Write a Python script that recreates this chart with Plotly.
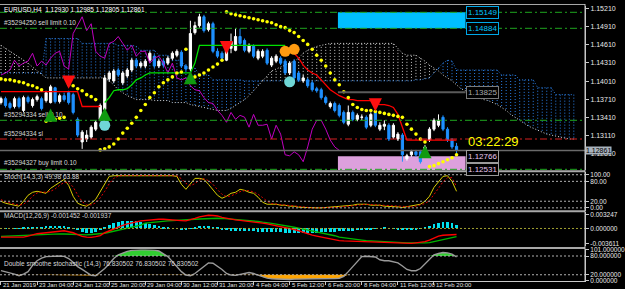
import plotly.graph_objects as go

# ---------------------------------------------------------------- data
bars = list(range(102))

opens = [
1.13654,1.13719,1.13638,1.13589,1.13719,1.13523,1.13736,1.13605,1.13703,1.13719,
1.13687,1.13654,1.13899,1.13670,1.13768,1.13817,1.13785,1.13376,1.13001,1.13050,
1.13082,1.13213,1.13376,1.13540,1.14046,1.14013,1.14193,1.13981,1.14095,1.14193,
1.14356,1.14259,1.14259,1.14356,1.14422,1.14259,1.14340,1.14307,1.14389,1.14438,
1.14487,1.14259,1.14209,1.14813,1.14928,1.15075,1.14862,1.14960,1.14503,1.14471,
1.14356,1.14552,1.14520,1.14748,1.14683,1.14503,1.14585,1.14389,1.14422,1.14520,
1.14275,1.14340,1.14389,1.14340,1.14144,1.14340,1.14144,1.14013,1.14030,1.13981,
1.13883,1.13866,1.13736,1.13589,1.13638,1.13605,1.13491,1.13295,1.13491,1.13376,
1.13409,1.13409,1.13278,1.13491,1.13213,1.13262,1.13278,1.13082,1.13050,1.13115,
1.12723,1.12789,1.12838,1.12838,1.12805,1.13033,1.13213,1.13278,1.13409,1.13213,
1.13033,1.12930]
highs = [
1.13752,1.13752,1.13670,1.13752,1.13752,1.13768,1.13768,1.13736,1.13785,1.13752,
1.13850,1.13948,1.13915,1.13801,1.13817,1.13850,1.13817,1.13409,1.13197,1.13197,
1.13278,1.13360,1.13638,1.14111,1.14177,1.14209,1.14226,1.14177,1.14226,1.14389,
1.14389,1.14340,1.14373,1.14503,1.14454,1.14373,1.14373,1.14422,1.14503,1.14536,
1.14520,1.14291,1.15009,1.14993,1.15124,1.15107,1.14993,1.14993,1.14552,1.14503,
1.14666,1.14797,1.14879,1.14879,1.14715,1.14634,1.14617,1.14536,1.14536,1.14552,
1.14422,1.14454,1.14422,1.14373,1.14340,1.14373,1.14177,1.14111,1.14062,1.14013,
1.13915,1.13899,1.13768,1.13670,1.13670,1.13638,1.13523,1.13605,1.13523,1.13474,
1.13458,1.13442,1.13491,1.13491,1.13327,1.13360,1.13311,1.13311,1.13164,1.13148,
1.12805,1.12870,1.12870,1.12870,1.12952,1.13246,1.13393,1.13458,1.13442,1.13246,
1.13066,1.12985]
lows = [
1.13621,1.13572,1.13540,1.13556,1.13556,1.13491,1.13638,1.13572,1.13670,1.13523,
1.13654,1.13638,1.13638,1.13638,1.13670,1.13621,1.13458,1.13082,1.12887,1.13001,
1.13050,1.13181,1.13344,1.13491,1.13997,1.13981,1.14079,1.13948,1.14062,1.14160,
1.14226,1.14226,1.14226,1.14324,1.14226,1.14226,1.14242,1.14275,1.14356,1.14405,
1.14226,1.14177,1.14177,1.14781,1.14895,1.14813,1.14830,1.14471,1.14389,1.14356,
1.14340,1.14471,1.14503,1.14601,1.14487,1.14471,1.14389,1.14356,1.14389,1.14275,
1.14242,1.14307,1.14275,1.14111,1.14111,1.14030,1.13997,1.13981,1.13899,1.13834,
1.13817,1.13703,1.13621,1.13556,1.13491,1.13409,1.13295,1.13262,1.13344,1.13344,
1.13360,1.13213,1.13246,1.13246,1.13181,1.13197,1.13017,1.13050,1.13017,1.12674,
1.12691,1.12756,1.12756,1.12642,1.12772,1.13001,1.13181,1.13246,1.13181,1.13001,
1.12887,1.12805]
closes = [
1.13719,1.13605,1.13572,1.13719,1.13589,1.13736,1.13670,1.13703,1.13752,1.13556,
1.13817,1.13915,1.13670,1.13768,1.13703,1.13654,1.13491,1.13115,1.13164,1.13115,
1.13246,1.13327,1.13605,1.14062,1.14144,1.14177,1.14111,1.14144,1.14193,1.14356,
1.14259,1.14307,1.14340,1.14471,1.14259,1.14340,1.14275,1.14389,1.14471,1.14503,
1.14259,1.14209,1.14797,1.14928,1.15075,1.14846,1.14960,1.14503,1.14422,1.14389,
1.14634,1.14666,1.14748,1.14634,1.14520,1.14601,1.14422,1.14503,1.14503,1.14307,
1.14389,1.14422,1.14307,1.14144,1.14307,1.14062,1.14030,1.14062,1.13932,1.13866,
1.13850,1.13736,1.13654,1.13638,1.13523,1.13442,1.13327,1.13491,1.13376,1.13442,
1.13412,1.13246,1.13458,1.13278,1.13278,1.13295,1.13050,1.13278,1.13131,1.12789,
1.12772,1.12838,1.12789,1.12674,1.12919,1.13213,1.13360,1.13360,1.13213,1.13033,
1.12919,1.12861]

sar = [
1.14046,1.14030,1.14030,1.14013,1.13997,1.13981,1.13948,1.13932,1.13899,1.13866,
1.13344,1.13360,1.13376,1.13393,1.13409,1.13948,1.13932,1.13883,1.13850,1.13785,
1.13752,1.13703,1.12870,1.12887,1.12919,1.12968,1.13050,1.13148,1.13229,1.13311,
1.13409,1.13523,1.13621,1.13736,1.13817,1.13915,1.13981,1.14030,1.14079,1.14144,
1.14160,1.14536,1.14062,1.14079,1.14111,1.14144,1.14193,1.14242,1.14291,1.14356,
1.15156,1.15124,1.15107,1.15091,1.15075,1.15058,1.15042,1.15026,1.15009,1.14993,
1.14977,1.14944,1.14911,1.14895,1.14846,1.14813,1.14748,1.14683,1.14617,1.14536,
1.14438,1.14356,1.14259,1.14144,1.14030,1.13948,1.13834,1.13736,1.13621,1.13572,
1.13540,1.13523,1.13523,1.13507,1.13491,1.13474,1.13458,1.13442,1.13425,1.13409,
1.13295,1.13213,1.13131,1.13050,1.13001,1.12593,1.12609,1.12642,1.12674,1.12707,
1.12740,1.12789]

# Ichimoku senkou spans (drawn 26 bars ahead, so 128 bars)
span_a = [
1.14144,1.14144,1.14144,1.14144,1.14144,1.14144,1.14144,1.14144,1.14144,1.14144,
1.14715,1.14715,1.14715,1.14715,1.14715,1.14715,1.14715,1.14715,1.14634,1.14634,
1.14634,1.14634,1.14634,1.14634,1.14634,1.14634,1.14601,1.14601,1.14601,1.14601,
1.14585,1.14520,1.14520,1.14520,1.14520,1.14438,1.14438,1.14438,1.14356,1.14356,
1.14356,1.14226,1.14226,1.14226,1.14111,1.14111,1.14111,1.14030,1.14030,1.14030,
1.14030,1.14030,1.14030,1.14030,1.14013,1.14013,1.14013,1.14013,1.14013,1.14013,
1.14013,1.14013,1.14013,1.14013,1.14013,1.14013,1.14013,1.14013,1.14013,1.14013,
1.14013,1.14013,1.14013,1.14013,1.14013,1.14013,1.14013,1.14013,1.14013,1.14013,
1.14013,1.14013,1.14013,1.14013,1.14013,1.14013,1.14013,1.14013,1.14013,1.14013,
1.14013,1.14013,1.14030,1.14030,1.14046,1.14062,1.14144,1.14226,1.14307,1.14356,
1.14340,1.14193,1.14193,1.14193,1.14193,1.14193,1.14193,1.14193,1.14193,1.14193,
1.14193,1.14111,1.14111,1.14111,1.14111,1.14030,1.14030,1.14030,1.14030,1.13899,
1.13899,1.13899,1.13899,1.13785,1.13785,1.13785,1.13785,1.13785]
span_b = [
1.14601,1.14552,1.14503,1.14454,1.14405,1.14356,1.14307,1.14242,1.14177,1.14111,
1.14062,1.14062,1.14062,1.14062,1.14062,1.14062,1.14062,1.14062,1.14062,1.14062,
1.14062,1.14062,1.14062,1.14062,1.14013,1.13948,1.13866,1.13817,1.13768,1.13736,
1.13703,1.13703,1.13703,1.13703,1.13687,1.13687,1.13687,1.13687,1.13654,1.13654,
1.13654,1.13654,1.13621,1.13605,1.13589,1.13572,1.13556,1.13540,1.13523,1.13523,
1.13523,1.13556,1.13605,1.13654,1.13703,1.13768,1.13850,1.13948,1.14030,1.14111,
1.14177,1.14209,1.14242,1.14275,1.14307,1.14340,1.14389,1.14471,1.14520,1.14552,
1.14585,1.14601,1.14617,1.14634,1.14634,1.14634,1.14634,1.14634,1.14634,1.14634,
1.14634,1.14634,1.14634,1.14634,1.14634,1.14634,1.14634,1.14634,1.14552,1.14471,
1.14438,1.14438,1.14438,1.14389,1.14340,1.14275,1.14226,1.14177,1.14111,1.14062,
1.14013,1.13948,1.13883,1.13850,1.13817,1.13768,1.13736,1.13703,1.13687,1.13654,
1.13621,1.13572,1.13523,1.13458,1.13409,1.13360,1.13311,1.13262,1.13229,1.13197,
1.13164,1.13131,1.13115,1.13099,1.13082,1.13066,1.13050,1.13050]

# trailing stop line: (first bar, values)
trend_red_segments = [
    (0, [1.13834,1.13834,1.13834,1.13834,1.13834,1.13834,1.13834,1.13834,1.13834,1.13834,
         1.13834,1.13834,1.13834,1.13834,1.13834,1.13834,1.13834,1.13834,
         1.13589,1.13589,1.13589,1.13589,1.13589]),
    (65, [1.14471,1.14389,1.14275,1.14193,1.14144,1.14111,1.14030,1.13948,1.13866,1.13817,
          1.13768,1.13736,1.13703,1.13703,1.13687,1.13687,1.13687,1.13687,1.13654,1.13621,
          1.13621,1.13605,1.13572,1.13458,1.13246,1.13033,1.13033,1.13033,1.13033,1.13033,
          1.13033,1.13033,1.13033,1.13033,1.13033,1.13033,1.13033]),
]
trend_green_segments = [
    (23, [1.13654,1.13736,1.13850,1.13866,1.13866,1.13883,1.13948,1.14030,1.14062,1.14111,
          1.14144,1.14144,1.14144,1.14144,1.14144,1.14144,1.14144,1.14144,1.14144,1.14144,
          1.14307,1.14601,1.14601,1.14601,1.14601,1.14601,1.14601,1.14601,1.14601,1.14601,
          1.14601,1.14601,1.14601,1.14601,1.14601,1.14601,1.14601,1.14601,1.14601,1.14601,
          1.14601]),
]

arrow_up_bars = [11, 23, 42, 94]
arrow_up_prices = [1.13556, 1.13572, 1.14177, 1.12952]
arrow_dn_bars = [15, 50, 83]
arrow_dn_prices = [1.13883, 1.14454, 1.13507]
cyan_bars = [23, 64]
cyan_prices = [1.13278, 1.13997]
orange_bars = [63, 65]
orange_prices = [1.14503, 1.14536]

zone_high = [1.15149, 1.14884]      # sell zone (cyan)
zone_low = [1.12766, 1.12531]       # buy zone (plum)
level_gray = 1.13825
level_sell_stop = 1.13360
level_sl = 1.13050
level_buy_limit = 1.12548
bid = 1.12861

stoch_main = [
20,14,11,8,5,20,38,47,50,47, 44,59,68,77,86,68,35,14,8,5,
14,26,50,74,95,97,97,99,98,99, 97,98,99,99,98,97,98,99,97,95,
71,56,74,89,89,86,71,56,38,29, 35,44,47,56,53,47,44,32,17,11,
11,11,8,8,5,5,2,1,0,0, 0,0,1,1,3,3,5,5,8,11,
11,11,8,8,8,5,5,5,3,1, 3,5,8,11,20,35,62,80,95,97,
80,49.98]
stoch_signal = [
25,18,15,11,8,11,21,35,45,48, 47,50,57,68,77,77,63,39,19,9,
9,15,30,50,73,89,96,98,98,98, 98,98,98,99,98,98,98,98,98,97,
88,74,67,73,84,88,82,71,55,41, 34,36,42,49,52,52,48,41,31,20,
13,11,10,9,7,6,4,3,1,0, 0,0,0,1,2,2,4,4,6,8,
10,11,10,9,8,7,6,5,4,3, 2,3,5,8,13,22,39,59,79,91,
91,63.88]

macd_main = [
-0.00208,-0.00208,-0.00208,-0.00208,-0.00208,-0.00208,-0.00184,-0.00149,-0.00125,-0.00114,
-0.00102,-0.00090,-0.00078,-0.00054,-0.00054,-0.00078,-0.00102,-0.00149,-0.00189,-0.00208,
-0.00213,-0.00196,-0.00173,-0.00102,-0.00054,-0.00007,0.00040,0.00076,0.00111,0.00142,
0.00158,0.00182,0.00194,0.00206,0.00218,0.00222,0.00222,0.00218,0.00206,0.00199,
0.00189,0.00182,0.00206,0.00241,0.00277,0.00300,0.00317,0.00312,0.00300,0.00265,
0.00241,0.00218,0.00206,0.00194,0.00182,0.00175,0.00166,0.00147,0.00128,0.00111,
0.00088,0.00071,0.00057,0.00028,0.00005,-0.00024,-0.00054,-0.00090,-0.00137,-0.00161,
-0.00184,-0.00208,-0.00232,-0.00255,-0.00279,-0.00291,-0.00298,-0.00303,-0.00307,-0.00310,
-0.00315,-0.00315,-0.00315,-0.00322,-0.00326,-0.00331,-0.00338,-0.00338,-0.00343,-0.00355,
-0.003611,-0.00358,-0.00345,-0.00338,-0.00315,-0.00279,-0.00232,-0.00184,-0.00161,-0.00150,
-0.00148,-0.001452]
macd_signal = [
-0.00189,-0.00184,-0.00180,-0.00173,-0.00166,-0.00161,-0.00156,-0.00149,-0.00144,-0.00137,
-0.00132,-0.00130,-0.00130,-0.00130,-0.00132,-0.00137,-0.00144,-0.00151,-0.00156,-0.00154,
-0.00144,-0.00137,-0.00132,-0.00114,-0.00090,-0.00066,-0.00043,-0.00019,0.00005,0.00024,
0.00052,0.00080,0.00128,0.00142,0.00158,0.00170,0.00177,0.00182,0.00189,0.00199,
0.00206,0.00213,0.00218,0.00222,0.00229,0.00237,0.00246,0.00246,0.00246,0.00241,
0.00234,0.00222,0.00218,0.00210,0.00201,0.00192,0.00182,0.00168,0.00151,0.00142,
0.00123,0.00104,0.00088,0.00076,0.00057,0.00028,0.00009,-0.00014,-0.00043,-0.00061,
-0.00078,-0.00097,-0.00118,-0.00144,-0.00173,-0.00208,-0.00225,-0.00239,-0.00255,-0.00267,
-0.00279,-0.00291,-0.00298,-0.00307,-0.00315,-0.00319,-0.00326,-0.00333,-0.00338,-0.00343,
-0.00345,-0.00345,-0.00350,-0.00350,-0.00345,-0.00338,-0.00320,-0.00295,-0.00268,-0.00243,
-0.00218,-0.001937]
macd_hist = [
-0.0001,-0.0001,0.0000,0.0001,0.0001,0.0002,0.0003,0.0003,0.0004,0.0004,
0.0005,0.0006,0.0006,0.0006,0.0005,0.0003,0.0001,-0.0004,-0.0008,-0.0010,
-0.0010,-0.0008,-0.0004,0.0003,0.0008,0.0012,0.0015,0.0017,0.0018,0.0018,
0.0017,0.0015,0.0013,0.0011,0.0009,0.0006,0.0004,0.0002,0.0000,-0.0001,
-0.0002,-0.0002,0.0001,0.0004,0.0006,0.0007,0.0006,0.0004,0.0002,-0.0002,
-0.0004,-0.0005,-0.0006,-0.0006,-0.0006,-0.0006,-0.0007,-0.0008,-0.0008,-0.0009,
-0.0009,-0.0009,-0.0009,-0.0010,-0.0010,-0.0010,-0.0010,-0.0010,-0.0011,-0.0010,
-0.0010,-0.0009,-0.0009,-0.0008,-0.0008,-0.0007,-0.0006,-0.0006,-0.0005,-0.0004,
-0.0004,-0.0003,-0.0002,-0.0001,0.0000,0.0002,0.0001,-0.0001,-0.0002,-0.0003,
-0.0004,-0.0004,-0.0003,-0.0001,0.0003,0.0007,0.0011,0.0014,0.0016,0.0015,
0.0012,0.0008]

dss = [
33,30,27,22,17,22,30,50,65,73, 78,79,80,80,79,72,60,46,37,26,
18,17,28,40,55,72,84,90,95,98, 100,100,100,100,99,96,88,78,62,46,
30,19,17,24,35,48,58,57,48,37, 24,19,18,21,26,27,24,19,13,9,
7,6,5,5,5,6,6,7,7,8, 8,8,8,8,8,9,15,30,45,60,
78,79,79,77,68,65,65,62,58,48, 37,33,33,40,55,70,84,88,91,90,
86,76.830502]

tick_bars = [0, 8, 16, 24, 32, 40, 48, 56, 64, 72, 80, 88, 96]
tick_labels = ["21 Jan 2019", "23 Jan 04:00", "24 Jan 12:00", "25 Jan 20:00",
               "29 Jan 04:00", "30 Jan 12:00", "31 Jan 20:00", "4 Feb 04:00",
               "5 Feb 12:00", "6 Feb 20:00", "8 Feb 04:00", "11 Feb 12:00",
               "12 Feb 20:00"]
price_ticks = [1.15210, 1.14910, 1.14610, 1.14310, 1.14010, 1.13710, 1.13410, 1.13110, 1.12810]

# ---------------------------------------------------------------- layout helpers
FONT = "Liberation Sans, Arial, sans-serif"
W, H = 625, 289
ML, MR, MT, MB = 0, 31, 0, 8
PH = H - MT - MB


def pdom(top_px, bot_px):
    return [max(0.0, 1 - bot_px / PH), 1 - top_px / PH]


def py(px):
    return 1 - px / PH


MAIN_RANGE = [1.12535, 1.15254]
BLUE = "#1E90FF"
HATCH_BLUE = "#2a7fe6"
HATCH_WHITE = "#c8c8c8"
DOT = "1px,2px"
DASHDOT = "7px,3px,2px,3px"

fig = go.Figure()

# ---- Ichimoku cloud (base subplot, below candles)
cloud_bars = list(range(len(span_a)))
hb_x, hb_y, hw_x, hw_y = [], [], [], []
for i, (a, b) in enumerate(zip(span_a, span_b)):
    if a >= b:
        hb_x += [i, i, None]
        hb_y += [a, b, None]
    else:
        hw_x += [i, i, None]
        hw_y += [a, b, None]
fig.add_trace(go.Scatter(x=hb_x, y=hb_y, mode="lines", xaxis="x", yaxis="y",
                         line=dict(color=HATCH_BLUE, width=1, dash=DOT), hoverinfo="skip"))
fig.add_trace(go.Scatter(x=hw_x, y=hw_y, mode="lines", xaxis="x", yaxis="y",
                         line=dict(color=HATCH_WHITE, width=1, dash=DOT), hoverinfo="skip"))
fig.add_trace(go.Scatter(x=cloud_bars, y=span_a, mode="lines", xaxis="x", yaxis="y",
                         line=dict(color=HATCH_BLUE, width=1, dash=DOT), hoverinfo="skip"))
fig.add_trace(go.Scatter(x=cloud_bars, y=span_b, mode="lines", xaxis="x", yaxis="y",
                         line=dict(color="#d8d8d8", width=1, dash=DOT), hoverinfo="skip"))

# ---- overlay subplot for price marks
chikou_x = bars[:len(closes) - 26]
chikou_y = closes[26:]
fig.add_trace(go.Scatter(x=chikou_x, y=chikou_y, mode="lines", xaxis="x", yaxis="y5",
                         line=dict(color="#c000c0", width=1), hoverinfo="skip"))
for start, vals in trend_red_segments:
    fig.add_trace(go.Scatter(x=list(range(start, start + len(vals))), y=vals, mode="lines",
                             xaxis="x", yaxis="y5", line=dict(color="#ff0000", width=1.3),
                             hoverinfo="skip"))
for start, vals in trend_green_segments:
    fig.add_trace(go.Scatter(x=list(range(start, start + len(vals))), y=vals, mode="lines",
                             xaxis="x", yaxis="y5", line=dict(color="#00e000", width=1.3),
                             hoverinfo="skip"))
fig.add_trace(go.Candlestick(
    x=bars, open=opens, high=highs, low=lows, close=closes, xaxis="x", yaxis="y5",
    increasing=dict(line=dict(color="#ffffff", width=1), fillcolor="#ffffff"),
    decreasing=dict(line=dict(color=BLUE, width=1), fillcolor=BLUE),
    whiskerwidth=0, hoverinfo="skip"))
fig.add_trace(go.Scatter(x=bars, y=sar, mode="markers", xaxis="x", yaxis="y5",
                         marker=dict(color="#ffff00", size=3.6, symbol="circle"), hoverinfo="skip"))
fig.add_trace(go.Scatter(x=cyan_bars, y=cyan_prices, mode="markers", xaxis="x", yaxis="y5",
                         marker=dict(color="#6fd6d6", size=11), hoverinfo="skip"))
fig.add_trace(go.Scatter(x=orange_bars, y=orange_prices, mode="markers", xaxis="x", yaxis="y5",
                         marker=dict(color="#ff9a10", size=11), hoverinfo="skip"))

# ---- Stochastic
fig.add_trace(go.Scatter(x=bars, y=stoch_main, mode="lines", xaxis="x", yaxis="y2",
                         line=dict(color="#d8cc00", width=1), hoverinfo="skip"))
fig.add_trace(go.Scatter(x=bars, y=stoch_signal, mode="lines", xaxis="x", yaxis="y2",
                         line=dict(color="#e00000", width=1, dash="2px,2px"), hoverinfo="skip"))

# ---- MACD
fig.add_trace(go.Bar(x=bars, y=macd_hist, xaxis="x", yaxis="y3", width=0.6,
                     marker=dict(color="#00e1ee", line=dict(width=0)), hoverinfo="skip"))
fig.add_trace(go.Scatter(x=bars, y=macd_signal, mode="lines", xaxis="x", yaxis="y3",
                         line=dict(color="#00b400", width=1.4), hoverinfo="skip"))
fig.add_trace(go.Scatter(x=bars, y=macd_main, mode="lines", xaxis="x", yaxis="y3",
                         line=dict(color="#ff0000", width=1.4), hoverinfo="skip"))

# ---- Double smoothed stochastic with zone fills
lvl20 = [20 for _ in bars]
lvl80 = [80 for _ in bars]
dss_lo = [min(v, 20) for v in dss]
dss_hi = [max(v, 80) for v in dss]
fig.add_trace(go.Scatter(x=bars, y=lvl20, mode="lines", xaxis="x", yaxis="y4",
                         line=dict(width=0), hoverinfo="skip"))
fig.add_trace(go.Scatter(x=bars, y=dss_lo, mode="lines", xaxis="x", yaxis="y4", fill="tonexty",
                         fillcolor="#ffa500", line=dict(width=0), hoverinfo="skip"))
fig.add_trace(go.Scatter(x=bars, y=lvl80, mode="lines", xaxis="x", yaxis="y4",
                         line=dict(width=0), hoverinfo="skip"))
fig.add_trace(go.Scatter(x=bars, y=dss_hi, mode="lines", xaxis="x", yaxis="y4", fill="tonexty",
                         fillcolor="#32cd32", line=dict(width=0), hoverinfo="skip"))
fig.add_trace(go.Scatter(x=bars, y=dss, mode="lines", xaxis="x", yaxis="y4",
                         line=dict(color="#9a9a9a", width=1.4), hoverinfo="skip"))

# ---------------------------------------------------------------- shapes
shapes = []
ZONE_X0, ZONE_X1 = 74.7, 103.0
shapes.append(dict(type="rect", xref="x", yref="y", x0=ZONE_X0, x1=ZONE_X1,
                   y0=zone_high[1], y1=zone_high[0], fillcolor="#00bfff",
                   line=dict(width=0), layer="below"))
shapes.append(dict(type="rect", xref="x", yref="y", x0=ZONE_X0, x1=ZONE_X1,
                   y0=zone_low[1], y1=zone_low[0], fillcolor="#dda0dd",
                   line=dict(width=0), layer="below"))
shapes.append(dict(type="line", xref="x", yref="y", x0=ZONE_X0, x1=ZONE_X1,
                   y0=level_gray, y1=level_gray, line=dict(color="#5a5a5a", width=2)))
for lv in (zone_high[0], zone_high[1], level_sell_stop, level_buy_limit):
    shapes.append(dict(type="line", xref="paper", yref="y", x0=0, x1=1, y0=lv, y1=lv,
                       line=dict(color="#1fa51f", width=1, dash=DASHDOT)))
shapes.append(dict(type="line", xref="paper", yref="y", x0=0, x1=1, y0=level_sl, y1=level_sl,
                   line=dict(color="#d42020", width=1, dash=DASHDOT)))
shapes.append(dict(type="line", xref="paper", yref="y", x0=0, x1=1, y0=bid, y1=bid,
                   line=dict(color="#6a6a6a", width=1.5)))
for lv in (100, 80, 20, 0):
    shapes.append(dict(type="line", xref="paper", yref="y2", x0=0, x1=1, y0=lv, y1=lv,
                       line=dict(color="#b0b0b0", width=1, dash="2px,2px")))
shapes.append(dict(type="line", xref="paper", yref="y3", x0=0, x1=1, y0=0, y1=0,
                   line=dict(color="#a0a030", width=1, dash="2px,2px")))
for lv in (80, 20):
    shapes.append(dict(type="line", xref="paper", yref="y4", x0=0, x1=1, y0=lv, y1=lv,
                       line=dict(color="#b0b0b0", width=1, dash="2px,2px")))
# panel separators / frame
for px in (169.6, 210.2, 247.4):
    shapes.append(dict(type="line", xref="paper", yref="paper", x0=0, x1=1,
                       y0=py(px), y1=py(px), line=dict(color="#a8a8a8", width=2)))
shapes.append(dict(type="line", xref="paper", yref="paper", x0=0, x1=1,
                   y0=py(0.5), y1=py(0.5), line=dict(color="#a8a8a8", width=1)))
shapes.append(dict(type="line", xref="paper", yref="paper", x0=1, x1=1,
                   y0=0, y1=1, line=dict(color="#c8c8c8", width=1)))

# ---------------------------------------------------------------- annotations
ann = []
small = dict(family=FONT, size=6.5, color="#d8d8d8")
ann.append(dict(xref="paper", yref="paper", x=0.004, y=py(5.5), xanchor="left", yanchor="middle",
                text="EURUSD,H4  1.12930 1.12985 1.12805 1.12861", showarrow=False,
                font=dict(family=FONT, size=6.5, color="#ffffff")))
for txt, lv in (("#35294250 sell limit 0.10", zone_high[1]), ("#35294334 sell 0.10", level_sell_stop),
                ("#35294334 sl", level_sl), ("#35294327 buy limit 0.10", level_buy_limit)):
    ann.append(dict(xref="paper", yref="y", x=0.004, y=lv, xanchor="left", yanchor="bottom",
                    yshift=0, text=txt, showarrow=False, font=small))
ann.append(dict(xref="paper", yref="paper", x=0.004, y=py(175.5), xanchor="left", yanchor="middle",
                text="Stoch(14,3,3) 49.98 63.88", showarrow=False, font=small))
ann.append(dict(xref="paper", yref="paper", x=0.004, y=py(215.5), xanchor="left", yanchor="middle",
                text="MACD(12,26,9) -0.001452 -0.001937", showarrow=False, font=small))
ann.append(dict(xref="paper", yref="paper", x=0.004, y=py(264), xanchor="left", yanchor="middle",
                text="Double smoothe stochastic (14,3) 76.830502 76.830502 76.830502",
                showarrow=False, font=small))
# level boxes
LABEL_X = 103.0
for txt, lv, col, bc in (("1.15149", zone_high[0], "#00c8ff", "#00a8e8"),
                         ("1.14884", zone_high[1], "#00c8ff", "#00a8e8"),
                         ("1.13825", level_gray, "#a8a8a8", "#7a7a7a"),
                         ("1.12766", zone_low[0], "#e8c8f0", "#9a9a9a"),
                         ("1.12531", zone_low[1] + 0.00010, "#e8c8f0", "#9a9a9a")):
    ann.append(dict(xref="x", yref="y", x=LABEL_X, y=lv, xanchor="left", yanchor="middle",
                    text=txt, showarrow=False, bgcolor="#000000", bordercolor=bc,
                    borderwidth=1, borderpad=1, font=dict(family=FONT, size=8, color=col)))
ann.append(dict(xref="x", yref="y", x=LABEL_X, y=1.13001, xanchor="left", yanchor="middle",
                text="03:22:29", showarrow=False,
                font=dict(family=FONT, size=13, color="#ffff00")))
ann.append(dict(xref="paper", yref="y", x=1.0, y=bid, xanchor="left", yanchor="middle",
                text="1.12861", showarrow=False, bgcolor="#a9b3bd", borderpad=0,
                font=dict(family=FONT, size=7, color="#000000")))
# signal arrows
for b, p in zip(arrow_up_bars, arrow_up_prices):
    ann.append(dict(xref="x", yref="y", x=b, y=p, ax=0, ay=12, text="", showarrow=True,
                    arrowhead=2, arrowsize=1.1, arrowwidth=2.4, arrowcolor="#109a10"))
for b, p in zip(arrow_dn_bars, arrow_dn_prices):
    ann.append(dict(xref="x", yref="y", x=b, y=p, ax=0, ay=-12, text="", showarrow=True,
                    arrowhead=2, arrowsize=1.1, arrowwidth=2.4, arrowcolor="#ff1010"))
# time labels
for b, t in zip(tick_bars, tick_labels):
    ann.append(dict(xref="x", yref="paper", x=b, y=0, xanchor="left", yanchor="top", xshift=1,
                    borderpad=0, text=t, showarrow=False,
                    font=dict(family=FONT, size=6, color="#e0e0e0")))


def yax(dom, rng, tv, tt, fs=7):
    return dict(domain=dom, range=rng, side="right", anchor="x", showgrid=False, zeroline=False,
                showline=True, linecolor="#c8c8c8", linewidth=1, ticks="outside", ticklen=3,
                tickcolor="#c8c8c8", tickvals=tv, ticktext=tt, fixedrange=True,
                tickfont=dict(family=FONT, size=fs, color="#e8e8e8"))


main_dom = pdom(2, 168.5)
fig.update_layout(
    width=W, height=H, autosize=False,
    margin=dict(l=ML, r=MR, t=MT, b=MB, pad=0),
    paper_bgcolor="#000000", plot_bgcolor="#000000",
    showlegend=False, bargap=0,
    xaxis=dict(domain=[0, 1], range=[-0.218, 129.48], anchor="y4", showgrid=False,
               zeroline=False, showline=True, linecolor="#c8c8c8", ticks="outside",
               ticklen=3, tickcolor="#c8c8c8", tickvals=tick_bars, showticklabels=False,
               rangeslider=dict(visible=False), fixedrange=True),
    yaxis=yax(main_dom, MAIN_RANGE, price_ticks, ["%.5f" % v for v in price_ticks]),
    yaxis5=dict(overlaying="y", range=MAIN_RANGE, visible=False, anchor="x", fixedrange=True),
    yaxis2=yax(pdom(170.5, 209.5), [-8, 108], [100, 80, 20, 0],
               ["100.00", "80.00", "20.00", "0.00"], 6.5),
    yaxis3=yax(pdom(211, 245.5), [-0.00420, 0.00395], [0.003247, 0, -0.003611],
               ["0.003247", "0.000000", "-0.003611"], 6.5),
    yaxis4=yax(pdom(249, PH), [0, 101], [101, 80, 20, 0],
               ["101.000000", "80.000000", "20.000000", "0.000000"], 6.5),
    shapes=shapes, annotations=ann,
)

fig.write_html("out.html", config={"displayModeBar": False})
